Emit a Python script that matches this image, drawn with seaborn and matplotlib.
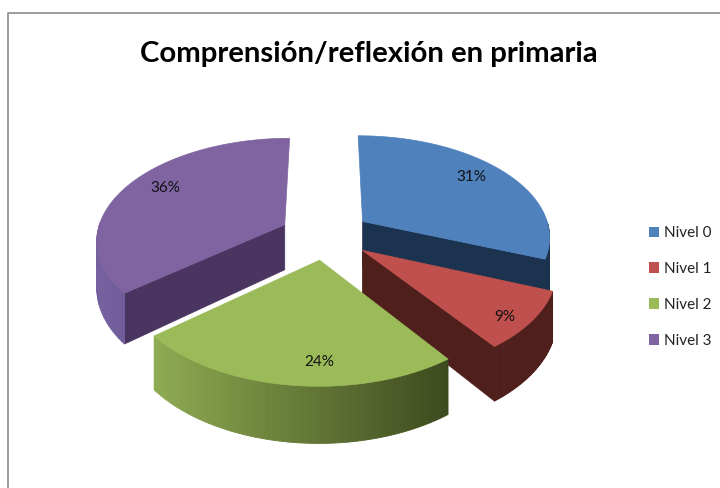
import numpy as np
import matplotlib
matplotlib.use("Agg")
import matplotlib.pyplot as plt
from matplotlib.patches import Patch
import seaborn as sns

title = "Comprensión/reflexión en primaria"
levels = ["Nivel 0", "Nivel 1", "Nivel 2", "Nivel 3"]
values = [31, 9, 24, 36]
top_colors = ["#4f81bd", "#c0504d", "#9bbb59", "#8064a2"]
face_colors = ["#1c3350", "#4f1f1c", "#3d4a1e", "#4a3560"]
wall_left = ["#1c3350", "#4f1f1c", "#8fab52", "#7560a0"]
wall_right = ["#1c3350", "#4f1f1c", "#3d4a1e", "#5a4578"]
label_radius = [0.80, 0.88, 0.83, 0.795]
label_angle = [53, 131, 180, 300]
draw_order = [3, 0, 1, 2]

# pie layout, all in picture pixels
cx, cy = 325.5, 235
rx, ry = 188, 101
persp = 0.138
explode = 0.243


def project(u, v, drop=0.0):
    s = 1 / (1 - persp * v)
    x = cx + rx * u * s
    y = cy + ry * v * s + drop * (46 + 9 * v)
    return x, y


sns.set_theme(style="white")
plt.rcParams["font.family"] = ["Lato", "DejaVu Sans"]

fig = plt.figure(figsize=(7.2, 4.88), dpi=100)
ax = fig.add_axes([0, 0, 1, 1])
ax.set_xlim(0, 720)
ax.set_ylim(488, 0)
ax.axis("off")

ax.plot([8, 8, 720], [488, 13, 13], color="#8c8c8c", lw=1.2)

edges = np.cumsum([0] + values) / sum(values) * 2 * np.pi

for i in draw_order:
    a, b = edges[i], edges[i + 1]
    mid = (a + b) / 2
    ou, ov = explode * np.sin(mid), -explode * np.cos(mid)
    th = np.linspace(a, b, 80)
    us = ou + np.sin(th)
    vs = ov - np.cos(th)

    # cut faces that look towards the viewer
    for ang, n_ang in ((a, a - np.pi / 2), (b, b + np.pi / 2)):
        if -np.cos(n_ang) > 0.05:
            x0, y0 = project(ou, ov)
            x1, y1 = project(ou + np.sin(ang), ov - np.cos(ang))
            x2, y2 = project(ou + np.sin(ang), ov - np.cos(ang), 1)
            x3, y3 = project(ou, ov, 1)
            ax.fill([x0, x1, x2, x3], [y0, y1, y2, y3], color=face_colors[i], lw=0.5)

    # outer wall, shaded from left to right
    xt, yt = project(us, vs)
    xb, yb = project(us, vs, 1)
    c0 = np.array(matplotlib.colors.to_rgb(wall_left[i]))
    c1 = np.array(matplotlib.colors.to_rgb(wall_right[i]))
    for k in range(len(th) - 1):
        if -np.cos(th[k]) <= 0:
            continue
        t = (xt[k] - xt.min()) / (xt.max() - xt.min())
        ax.fill([xt[k], xt[k + 1], xb[k + 1], xb[k]],
                [yt[k], yt[k + 1], yb[k + 1], yb[k]],
                color=c0 + (c1 - c0) * t, lw=0.6)

    # top of the slice
    xa, ya = project(ou, ov)
    ax.fill(np.r_[xa, xt], np.r_[ya, yt], color=top_colors[i], lw=0.5)

    la = np.radians(label_angle[i])
    lx, ly = project(ou + label_radius[i] * np.sin(la), ov - label_radius[i] * np.cos(la))
    ax.text(lx, ly, f"{values[i]}%", fontsize=11, color="#111111", ha="center", va="center")

ax.text(369, 54, title, fontsize=21.2, fontweight="bold", color="black", ha="center", va="center")

handles = [Patch(facecolor=c, edgecolor="none") for c in top_colors]
ax.legend(handles, levels, loc="center left", bbox_to_anchor=(649 / 720, 1 - 287 / 488),
          frameon=False, fontsize=11, labelspacing=1.42, handlelength=0.65, handleheight=0.7,
          handletextpad=0.35, borderpad=0, borderaxespad=0, labelcolor="#222222")

fig.savefig("out.png", dpi=100)
